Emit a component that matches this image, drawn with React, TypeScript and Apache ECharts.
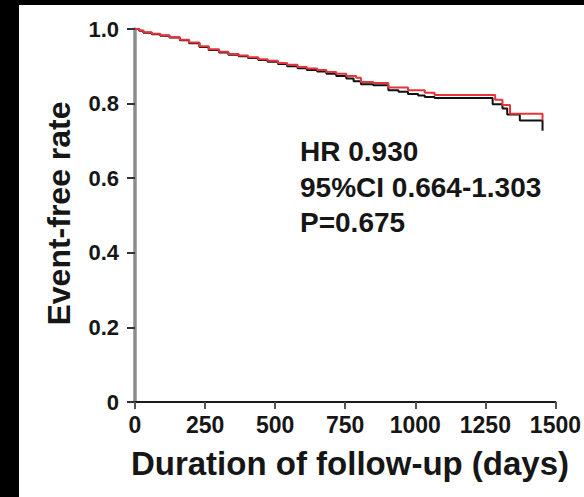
import React, { useEffect, useRef } from "react";
import * as echarts from "echarts";

const xTicks = [0, 250, 500, 750, 1000, 1250, 1500];
const yTicks = [0, 0.2, 0.4, 0.6, 0.8, 1.0];

const blackDays = [0, 15, 30, 60, 90, 123, 160, 193, 230, 263, 300, 333, 370, 403, 440, 473, 510, 543, 580, 613, 650, 683, 718, 754, 780, 806, 850, 904, 940, 974, 1010, 1034, 1069, 1276, 1311, 1328, 1373, 1454];
const blackVals = [1.0, 0.995, 0.99, 0.986, 0.982, 0.977, 0.97, 0.962, 0.952, 0.944, 0.937, 0.931, 0.927, 0.922, 0.917, 0.912, 0.906, 0.9, 0.895, 0.89, 0.886, 0.88, 0.874, 0.867, 0.86, 0.852, 0.849, 0.836, 0.832, 0.826, 0.822, 0.818, 0.815, 0.798, 0.787, 0.771, 0.755, 0.727];

const redDays = [0, 15, 30, 60, 90, 123, 160, 193, 230, 263, 300, 333, 370, 403, 440, 473, 510, 543, 580, 613, 650, 683, 718, 754, 789, 806, 850, 904, 974, 1034, 1069, 1285, 1311, 1338, 1454];
const redVals = [1.0, 0.996, 0.991, 0.987, 0.983, 0.978, 0.971, 0.964, 0.954, 0.946, 0.939, 0.933, 0.929, 0.924, 0.919, 0.915, 0.909, 0.904, 0.898, 0.894, 0.89, 0.885, 0.88, 0.874, 0.869, 0.858, 0.855, 0.843, 0.836, 0.829, 0.823, 0.81, 0.796, 0.773, 0.755];

const statLines = ["HR 0.930", "95%CI 0.664-1.303", "P=0.675"];
const xTitle = "Duration of follow-up (days)";
const yTitle = "Event-free rate";

const FONT = "'Liberation Sans', Arial, Helvetica, sans-serif";
const TEXT = "#161616";

export default function App() {
  const ref = useRef<HTMLDivElement>(null);
  useEffect(() => {
    if (!ref.current) return;
    const chart = echarts.init(ref.current, null, { renderer: "svg" });
    const gridLeft = 116, gridTop = 24, gridRight = 21, gridBottom = 95;
    const W = 565, H = 492;
    const cx = gridLeft + (W - gridLeft - gridRight) / 2;
    const cy = gridTop + (H - gridTop - gridBottom) / 2;
    chart.setOption({
      animation: false,
      backgroundColor: "#ffffff",
      grid: { left: gridLeft, top: gridTop, right: gridRight, bottom: gridBottom, containLabel: false },
      xAxis: {
        type: "value",
        min: xTicks[0],
        max: xTicks[xTicks.length - 1],
        interval: 250,
        splitLine: { show: false },
        axisLine: { show: true, onZero: false, lineStyle: { color: "#1a1a1a", width: 2 } },
        axisTick: { show: true, length: 7, lineStyle: { color: "#555", width: 2 } },
        axisLabel: {
          margin: 11,
          color: TEXT,
          fontFamily: FONT,
          fontWeight: "bold",
          fontSize: 23,
          formatter: (v: number) => String(v),
        },
      },
      yAxis: {
        type: "value",
        min: yTicks[0],
        max: yTicks[yTicks.length - 1],
        interval: 0.2,
        splitLine: { show: false },
        axisLine: { show: true, onZero: false, lineStyle: { color: "#8c8c8c", width: 3.5 } },
        axisTick: { show: true, length: 8, lineStyle: { color: "#333", width: 2 } },
        axisLabel: {
          margin: 16,
          color: TEXT,
          fontFamily: FONT,
          fontWeight: "bold",
          fontSize: 22,
          formatter: (v: number) => (v === 0 ? "0" : v.toFixed(1)),
        },
      },
      series: [
        {
          type: "line",
          step: "end",
          showSymbol: false,
          symbol: "none",
          data: blackDays.map((d, i) => [d, blackVals[i]]),
          lineStyle: { color: "#111111", width: 2 },
          z: 2,
        },
        {
          type: "line",
          step: "end",
          showSymbol: false,
          symbol: "none",
          data: redDays.map((d, i) => [d, redVals[i]]),
          lineStyle: { color: "#e8333b", width: 2 },
          z: 3,
        },
      ],
      graphic: [
        {
          type: "text",
          x: 39.5,
          y: cy - 2,
          rotation: Math.PI / 2,
          style: {
            text: yTitle,
            fill: TEXT,
            font: `bold 32px ${FONT}`,
            align: "center",
            verticalAlign: "middle",
          },
        },
        {
          type: "text",
          x: cx + 1,
          y: 458,
          style: {
            text: xTitle,
            fill: TEXT,
            font: `bold 33px ${FONT}`,
            align: "center",
            verticalAlign: "middle",
          },
        },
        ...statLines.map((t, i) => ({
          type: "text",
          x: 281,
          y: [146.7, 182.5, 217.5][i],
          style: {
            text: t,
            fill: TEXT,
            font: `bold 28px ${FONT}`,
            align: "left",
            verticalAlign: "middle",
          },
        })),
      ],
    });
    return () => chart.dispose();
  }, []);
  return (
    <div style={{ position: "fixed", left: 0, top: 0, width: 584, height: 497, background: "#000" }}>
      <div
        ref={ref}
        style={{ position: "absolute", left: 19, top: 5, width: 565, height: 492, background: "#fff" }}
      />
    </div>
  );
}
